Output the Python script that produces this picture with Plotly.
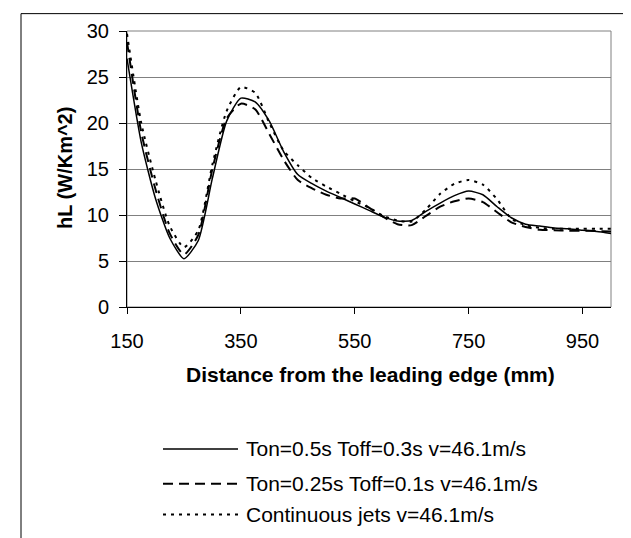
import plotly.graph_objects as go

distance_mm = [150, 175, 200, 225, 250, 275, 300, 325, 350, 375, 400, 425, 450, 475,
               500, 525, 550, 575, 600, 625, 650, 675, 700, 725, 750, 775, 800, 825,
               850, 875, 900, 925, 950, 975, 1000]

hl_ton05_toff03 = [27.0, 17.9, 11.8, 7.5, 5.25, 7.2, 14.0, 20.2, 22.7, 22.3, 20.2, 16.9,
                   14.4, 13.4, 12.6, 11.9, 11.2, 10.5, 9.8, 9.35, 9.4, 10.4, 11.3, 12.1,
                   12.6, 12.2, 10.9, 9.7, 9.0, 8.8, 8.6, 8.5, 8.35, 8.2, 8.0]

hl_ton025_toff01 = [28.8, 19.0, 12.8, 8.0, 5.7, 7.8, 15.0, 20.5, 22.1, 21.5, 18.8, 16.0,
                    13.8, 12.9, 12.2, 11.8, 11.8, 10.8, 9.8, 9.0, 8.9, 9.9, 10.9, 11.5,
                    11.8, 11.4, 10.3, 9.2, 8.7, 8.4, 8.35, 8.3, 8.3, 8.25, 8.2]

hl_continuous = [29.7, 20.0, 13.8, 8.8, 6.5, 8.3, 15.5, 21.3, 23.9, 23.3, 20.0, 17.0,
                 15.4, 14.0, 13.1, 12.3, 11.5, 10.8, 9.9, 9.4, 9.3, 10.6, 12.3, 13.4,
                 13.8, 13.3, 11.7, 9.6, 8.9, 8.6, 8.5, 8.5, 8.5, 8.5, 8.5]

series_names = ["Ton=0.5s Toff=0.3s v=46.1m/s",
                "Ton=0.25s Toff=0.1s v=46.1m/s",
                "Continuous jets v=46.1m/s"]
series_values = [hl_ton05_toff03, hl_ton025_toff01, hl_continuous]
series_dash = ["solid", "10px,6px", "3px,5px"]
series_width = [1.5, 2, 2]

x_ticks = [150, 350, 550, 750, 950]
y_ticks = [0, 5, 10, 15, 20, 25, 30]

FONT = "Liberation Sans, Arial, sans-serif"
W, H = 631, 538
L, R, T, B = 119, 28, 21, 239
PW, PH = W - L - R, H - T - B


def px2x(px):
    return (px - L) / PW


def py2y(py):
    return (H - B - py) / PH


fig = go.Figure()
for name, vals, dash, lw in zip(series_names, series_values, series_dash, series_width):
    fig.add_trace(go.Scatter(x=distance_mm, y=vals, mode="lines", name=name,
                             line=dict(color="black", width=lw, dash=dash, shape="spline",
                                       smoothing=0.6),
                             showlegend=False))

shapes = []
# plot area border (gray)
shapes.append(dict(type="rect", xref="paper", yref="paper", x0=0, x1=1, y0=0, y1=1,
                   line=dict(color="#808080", width=1), layer="below"))
# outer chart border
shapes.append(dict(type="rect", xref="paper", yref="paper",
                   x0=px2x(13), x1=px2x(627), y0=py2y(545), y1=py2y(3.5),
                   line=dict(color="black", width=1), fillcolor="rgba(0,0,0,0)"))

annotations = []
legend_y = [442, 477, 508]
for name, dash, lw, ly in zip(series_names, series_dash, series_width, legend_y):
    shapes.append(dict(type="line", xref="paper", yref="paper",
                       x0=px2x(155), x1=px2x(230), y0=py2y(ly), y1=py2y(ly),
                       line=dict(color="black", width=lw, dash=dash)))
    annotations.append(dict(xref="paper", yref="paper", x=px2x(236), y=py2y(ly),
                            text=name, showarrow=False, xanchor="left", yanchor="middle",
                            font=dict(family=FONT, size=21, color="black")))

annotations.append(dict(xref="paper", yref="paper", x=px2x(362), y=py2y(367),
                        text="<b>Distance from the leading edge (mm)</b>", showarrow=False,
                        xanchor="center", yanchor="middle",
                        font=dict(family=FONT, size=21, color="black")))
annotations.append(dict(xref="paper", yref="paper", x=px2x(57), y=py2y(159),
                        text="<b>hL (W/Km^2)</b>", showarrow=False, textangle=-90,
                        xanchor="center", yanchor="middle",
                        font=dict(family=FONT, size=20, color="black")))

fig.update_layout(
    width=W, height=H,
    margin=dict(l=L, r=R, t=T, b=B, pad=0),
    paper_bgcolor="white", plot_bgcolor="white",
    font=dict(family=FONT, size=20, color="black"),
    shapes=shapes, annotations=annotations,
    showlegend=False,
)
fig.update_xaxes(range=[150, 1000], tickvals=x_ticks, ticktext=[str(v) for v in x_ticks],
                 showgrid=False, zeroline=False, showline=True, linecolor="black",
                 linewidth=1, ticks="outside", ticklen=6, tickcolor="black",
                 tickfont=dict(family=FONT, size=20, color="black"), ticklabelstandoff=10)
fig.update_yaxes(range=[0, 30], tickvals=y_ticks, showgrid=True, gridcolor="#808080",
                 gridwidth=1, zeroline=False, showline=True, linecolor="black",
                 linewidth=1, ticks="outside", ticklen=7, tickcolor="black",
                 tickfont=dict(family=FONT, size=20, color="black"), ticklabelstandoff=6)

fig.write_html("out.html")
